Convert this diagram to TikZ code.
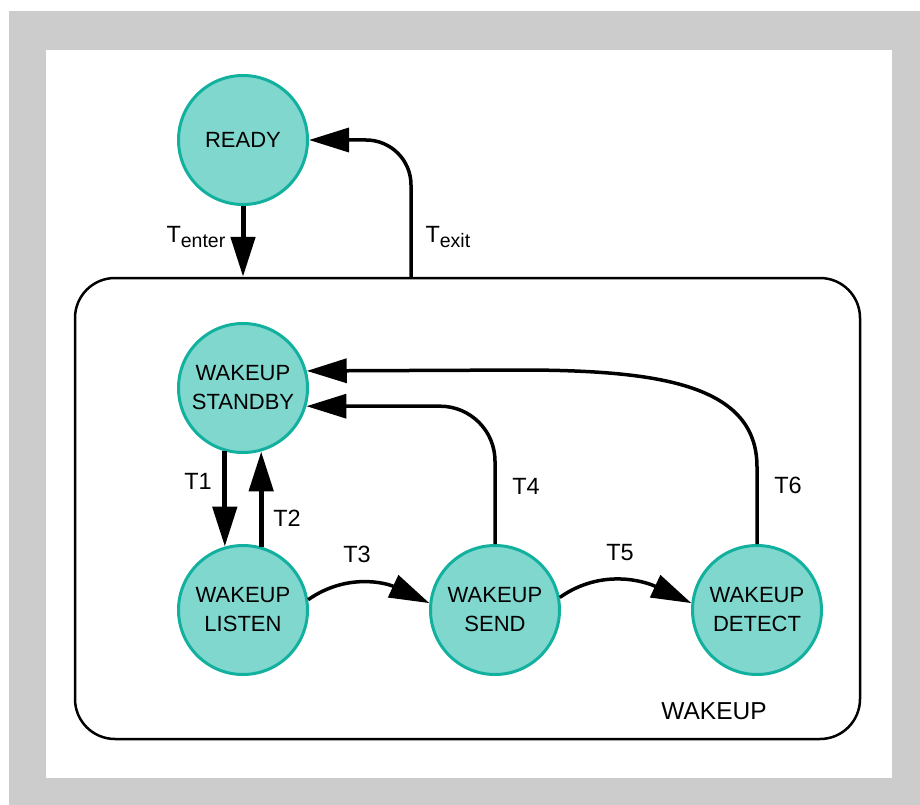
\documentclass[tikz,border=0pt]{standalone}
\usepackage{fontspec}
\setmainfont{Liberation Sans}
\usetikzlibrary{arrows.meta}
\definecolor{cteal}{RGB}{18,176,158}
\definecolor{cfill}{RGB}{128,215,205}
\definecolor{cframe}{RGB}{204,204,204}
\tikzset{
  fsm/.style={x=1pt,y=1pt},
  state/.style={circle,draw=cteal,fill=cfill,line width=3pt,minimum size=129pt,
    inner sep=0pt,align=center,font=\fontsize{22}{29}\selectfont},
  trans/.style={line width=3.5pt,-{Triangle[length=40pt,width=24pt]}},
  vtrans/.style={trans,line width=5pt},
  lbl/.style={font=\fontsize{23.5}{24}\selectfont},
}
\newcommand{\sublbl}[1]{\raisebox{-5pt}{\fontsize{19.5}{20}\selectfont #1}}

\begin{document}
\begin{tikzpicture}[fsm]
    \fill[white] (0,0) rectangle (920,-805);
    \fill[cframe] (9,-11) rectangle (920,-805);
    \fill[white] (46,-50) rectangle (892,-778);
    \useasboundingbox (0,0) rectangle (920,-805);

    \node[draw,line width=2.5pt,rounded corners=40pt,minimum width=785pt,
      minimum height=461pt,inner sep=0pt] (wakeup) at (467.5,-508.5) {};
    \node[font=\fontsize{24.5}{25}\selectfont] (wlabel) at (714,-711) {WAKEUP};

    \node[state] (ready)   at (243,-140) {READY};
    \node[state] (standby) at (243,-388) {WAKEUP\\STANDBY};
    \node[state] (listen)  at (243,-610) {WAKEUP\\LISTEN};
    \node[state] (send)    at (495,-610) {WAKEUP\\SEND};
    \node[state] (detect)  at (757,-610) {WAKEUP\\DETECT};
    \coordinate (exitpt) at (411,-278);

    \draw[vtrans] (ready.south) -- (ready.south |- wakeup.north);
    \draw[trans,rounded corners=45pt] (exitpt) |- (ready.east);
    \draw[vtrans] (standby.254) -- (listen.106);
    \draw[vtrans] (listen.74) -- (standby.286);
    \draw[trans] (listen.9) to[out=35,in=155] (send.174);
    \draw[trans] (send.11) to[out=35,in=155] (detect.174);
    \draw[trans,rounded corners=55pt] (send.north) |- (standby.-16);
    \draw[trans] (detect.north) -- (757,-467) .. controls (757,-385) and (660,-371)
      .. (530,-370) -- (standby.15);

    \node[lbl,anchor=base west] (tenter) at (163,-242) {T\sublbl{enter}};
    \node[lbl,anchor=base west] (texit) at (422,-242) {T\sublbl{exit}};
    \node[lbl] (t1) at (198,-481) {T1};
    \node[lbl] (t2) at (287,-518) {T2};
    \node[lbl] (t3) at (357,-554) {T3};
    \node[lbl] (t4) at (526,-486) {T4};
    \node[lbl] (t5) at (620,-553) {T5};
    \node[lbl] (t6) at (788,-485) {T6};
\end{tikzpicture}
\end{document}
